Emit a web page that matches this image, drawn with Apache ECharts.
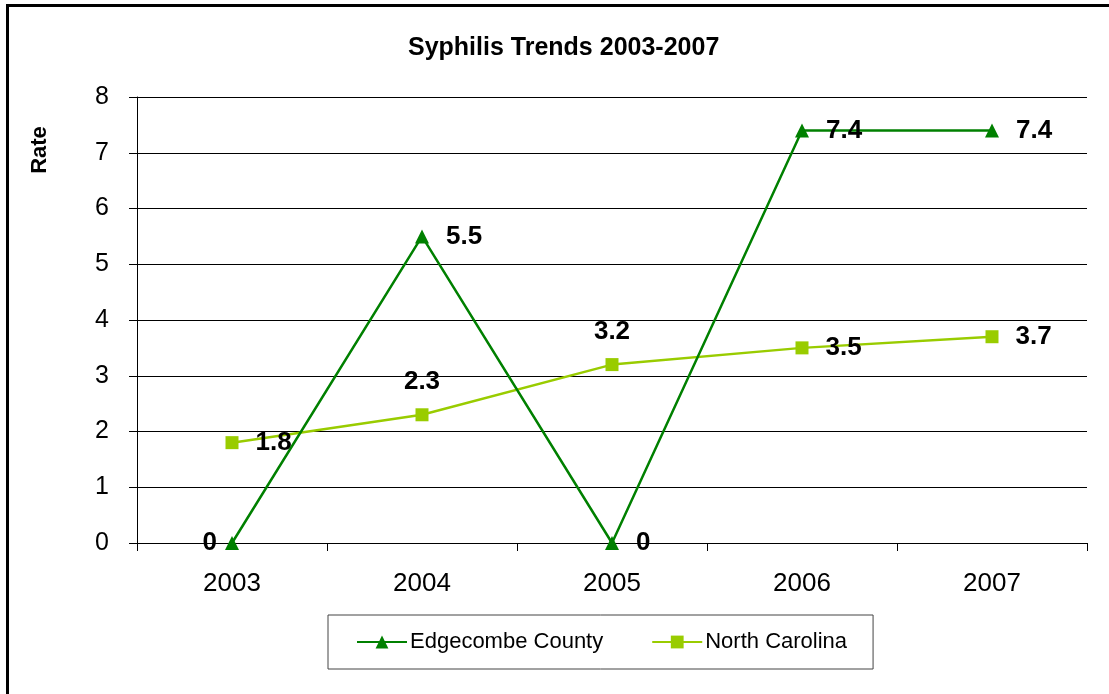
<!DOCTYPE html>
<html style="height:100%">
<head>
<meta charset="utf-8">
<style>
  body { margin: 0; height: 100%; background: #fff; overflow: hidden; }
  #frame { position: absolute; left: 6px; top: 4px; width: 1200px; height: 800px;
           border-left: 3px solid #000; border-top: 3px solid #000; }
  #container { position: absolute; left: 0; top: 0; width: 1109px; height: 694px; }
</style>
</head>
<body>
<div id="frame"></div>
<div id="container"></div>
<script src="https://cdn.jsdelivr.net/npm/echarts@6/dist/echarts.min.js"></script>
<script type="text/javascript">
var years = ['2003', '2004', '2005', '2006', '2007'];
var edgecombe = [0, 5.5, 0, 7.4, 7.4];
var northCarolina = [1.8, 2.3, 3.2, 3.5, 3.7];
var yTicks = [0, 1, 2, 3, 4, 5, 6, 7, 8];

var arial = "'Liberation Sans', Arial, sans-serif";

// where each value label sits relative to its point
var edgePos = ['left', 'right', 'right', 'right', 'right'];
var ncPos = ['right', 'top', 'top', 'right', 'right'];

function withLabels(values, positions) {
    return values.map(function (v, i) {
        var p = positions[i];
        return {
            value: v,
            label: { position: p, distance: p === 'left' ? 8 : (p === 'top' ? 13 : 17) }
        };
    });
}

var dom = document.getElementById('container');
var myChart = echarts.init(dom);

var labelStyle = {
    show: true,
    fontFamily: arial,
    fontWeight: 'bold',
    fontSize: 26,
    color: '#000'
};

var option = {
    animation: false,
    backgroundColor: 'transparent',
    title: {
        text: 'Syphilis Trends 2003-2007',
        left: 403,
        top: 31,
        textStyle: { fontFamily: arial, fontWeight: 'bold', fontSize: 25, color: '#000' }
    },
    graphic: [{
        type: 'text',
        x: 40,
        y: 150,
        rotation: Math.PI / 2,
        style: {
            text: 'Rate', font: 'bold 22px ' + arial, fill: '#000',
            align: 'center', verticalAlign: 'middle'
        }
    }],
    legend: {
        left: 328,
        top: 615,
        padding: [16, 26, 16, 28],
        borderColor: '#444',
        borderWidth: 1,
        itemWidth: 50,
        itemHeight: 16,
        itemGap: 48,
        textStyle: { fontFamily: arial, fontSize: 22, color: '#000', padding: [0, 0, 0, -2] },
        data: ['Edgecombe County', 'North Carolina']
    },
    grid: { left: 137, right: 22, top: 97, bottom: 151 },
    xAxis: {
        type: 'category',
        data: years,
        boundaryGap: true,
        axisLine: { lineStyle: { color: '#000', width: 1 } },
        axisTick: { show: true, length: 8, lineStyle: { color: '#000' } },
        axisLabel: { margin: 28, fontFamily: arial, fontSize: 26, color: '#000' }
    },
    yAxis: {
        type: 'value',
        min: yTicks[0],
        max: yTicks[yTicks.length - 1],
        interval: 1,
        axisLine: { show: true, lineStyle: { color: '#000', width: 1 } },
        axisTick: { show: true, length: 8, lineStyle: { color: '#000' } },
        axisLabel: { margin: 28, fontFamily: arial, fontSize: 25, color: '#000' },
        splitLine: { show: true, lineStyle: { color: '#000', width: 1 } }
    },
    series: [
        {
            name: 'Edgecombe County',
            type: 'line',
            data: withLabels(edgecombe, edgePos),
            symbol: 'triangle',
            symbolSize: 14,
            showAllSymbol: true,
            itemStyle: { color: '#008000' },
            lineStyle: { color: '#008000', width: 2.5 },
            label: labelStyle,
            z: 3
        },
        {
            name: 'North Carolina',
            type: 'line',
            data: withLabels(northCarolina, ncPos),
            symbol: 'rect',
            symbolSize: 13,
            showAllSymbol: true,
            itemStyle: { color: '#99CC00' },
            lineStyle: { color: '#99CC00', width: 2.5 },
            label: labelStyle,
            z: 2
        }
    ]
};

myChart.setOption(option);
</script>
</body>
</html>
